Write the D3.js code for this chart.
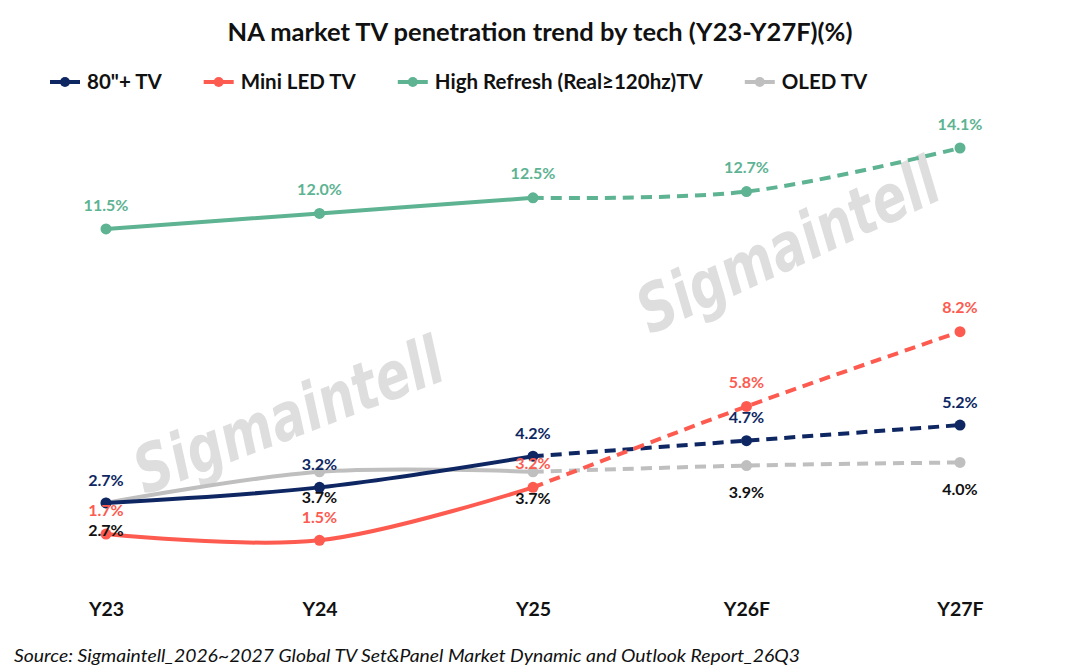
<!DOCTYPE html>
<html><head><meta charset="utf-8">
<script src="https://cdn.jsdelivr.net/npm/d3@7"></script>
<style>body{margin:0;background:#fff}svg{display:block}</style>
</head><body><svg id="c" width="1080" height="671"></svg>
<script>
const categories = ["Y23","Y24","Y25","Y26F","Y27F"];
const seriesNames = ["80\"+ TV","Mini LED TV","High Refresh (Real≥120hz)TV","OLED TV"];
const tv80 = [2.7,3.2,4.2,4.7,5.2];
const miniLed = [1.7,1.5,3.2,5.8,8.2];
const highRefresh = [11.5,12.0,12.5,12.7,14.1];
const oled = [2.7,3.7,3.7,3.9,4.0];
const title = "NA market TV penetration trend by tech (Y23-Y27F)(%)";
const source = "Source: Sigmaintell_2026~2027 Global TV Set&Panel Market Dynamic and Outlook Report_26Q3";

const colors = ["#0e2763","#fd5b50","#5db392","#bfbfbf"];
const labelColors = ["#0e2763","#fd5b50","#5db392","#111111"];
const labelOffsets = [-23,-24,-24,27];
const series = [tv80, miniLed, highRefresh, oled];
const font = "Lato, 'Open Sans', sans-serif";
const labelSize = 16;

const svg = d3.select("#c");
const x = d3.scalePoint().domain(categories).range([106,960]);
const y = d3.scaleLinear().domain([0,14.1]).range([587,148]);

// watermarks
const wm = [[290,420,-21],[790,250,-25]];
wm.forEach(([cx,cy,a])=>{
  svg.append("text").attr("transform",`translate(${cx},${cy}) rotate(${a})`)
    .attr("text-anchor","middle").attr("dominant-baseline","middle")
    .attr("font-family","'DejaVu Sans', sans-serif").attr("font-style","italic")
    .attr("font-weight","bold").attr("font-size",66).attr("fill","#dedede")
    .attr("textLength",325).attr("lengthAdjust","spacingAndGlyphs")
    .text("Sigmaintell");
});

// title
svg.append("text").attr("x",540).attr("y",41).attr("text-anchor","middle")
  .attr("font-family",font).attr("font-weight","bold").attr("font-size",24)
  .attr("fill","#111").attr("textLength",625).attr("lengthAdjust","spacingAndGlyphs").text(title);

// legend
let lx = 50;
const lg = svg.append("g");
seriesNames.forEach((n,i)=>{
  const g = lg.append("g");
  g.append("line").attr("x1",lx).attr("x2",lx+30).attr("y1",82).attr("y2",82)
    .attr("stroke",colors[i]).attr("stroke-width",4);
  g.append("circle").attr("cx",lx+15).attr("cy",82).attr("r",5).attr("fill",colors[i]);
  const t = g.append("text").attr("x",lx+37).attr("y",89).attr("font-family",font)
    .attr("font-weight","bold").attr("font-size",20.5).attr("fill","#111").text(n);
  lx += 37 + t.node().getComputedTextLength() + 42;
});

// x axis labels
const xAxis = d3.axisBottom(x).tickSize(0).tickPadding(0);
const ax = svg.append("g").attr("transform","translate(0,598)").call(xAxis);
ax.select(".domain").remove();
ax.selectAll("text").attr("font-family",font).attr("font-weight","bold")
  .attr("font-size",19.5).attr("fill","#111").attr("dy","0.9em");

// lines
const line = d3.line().x(d=>x(d.c)).y(d=>y(d.v)).curve(d3.curveCardinal);
const order = [3,2,0,1];
order.forEach(i=>{
  const pts = series[i].map((v,j)=>({c:categories[j],v}));
  svg.append("path").attr("d",line(pts.slice(0,3))).attr("fill","none")
    .attr("stroke",colors[i]).attr("stroke-width",4).attr("stroke-linecap","round");
  svg.append("path").attr("d",line(pts.slice(2))).attr("fill","none")
    .attr("stroke",colors[i]).attr("stroke-width",4).attr("stroke-dasharray","11,7");
  svg.selectAll(null).data(pts).enter().append("circle")
    .attr("cx",d=>x(d.c)).attr("cy",d=>y(d.v)).attr("r",5.5).attr("fill",colors[i]);
});

// labels with simple vertical collision separation per category
const labels = [];
order.forEach(i=>{
  series[i].forEach((v,j)=>labels.push({i,c:categories[j],v,ly:y(v)+labelOffsets[i]}));
});
const minGap = labelSize*1.25;
for (let it=0; it<20; it++) {
  categories.forEach(c=>{
    const ls = labels.filter(l=>l.c===c).sort((a,b)=>a.ly-b.ly);
    for (let k=1;k<ls.length;k++){
      const d = ls[k].ly - ls[k-1].ly;
      if (d < minGap) { const p=(minGap-d)/2; ls[k].ly+=p; ls[k-1].ly-=p; }
    }
  });
}
svg.selectAll(null).data(labels).enter().append("text")
  .attr("x",d=>x(d.c)).attr("y",d=>d.ly).attr("dy","0.35em")
  .attr("text-anchor","middle").attr("font-family",font).attr("font-weight","bold")
  .attr("font-size",labelSize).attr("fill",d=>labelColors[d.i]).text(d=>d.v.toFixed(1)+"%");

// source
svg.append("text").attr("x",14).attr("y",662).attr("font-family",font)
  .attr("font-style","italic").attr("font-size",17.5).attr("fill","#111")
  .attr("textLength",786).attr("lengthAdjust","spacingAndGlyphs").text(source);
</script></body></html>
